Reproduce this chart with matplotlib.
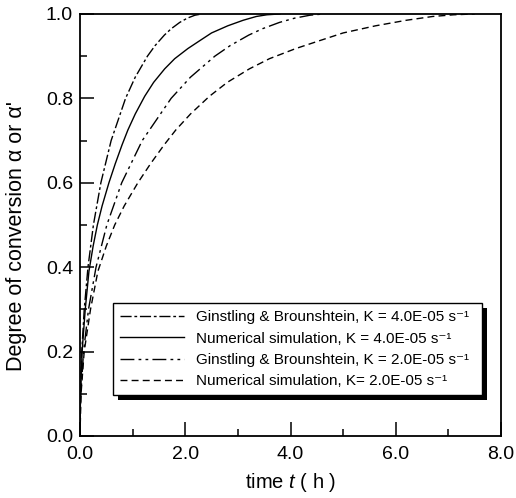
import matplotlib
matplotlib.use('Agg')
import matplotlib.pyplot as plt
import matplotlib.patheffects as pe

plt.rcParams['font.family'] = ['Liberation Sans', 'DejaVu Sans']
plt.rcParams['mathtext.fontset'] = 'custom'
plt.rcParams['mathtext.rm'] = 'Liberation Sans'
plt.rcParams['mathtext.it'] = 'Liberation Sans:italic'

# Ginstling & Brounshtein, K = 4.0E-05
t_gb4 = [0.0, 0.002, 0.008, 0.034, 0.081, 0.152, 0.255, 0.397, 0.592, 0.866,
         1.049, 1.282, 1.427, 1.604, 1.734, 1.896, 2.039, 2.184, 2.315]
a_gb4 = [0.0, 0.05, 0.1, 0.2, 0.3, 0.4, 0.5, 0.6, 0.7, 0.8,
         0.85, 0.9, 0.925, 0.95, 0.965, 0.98, 0.99, 0.997, 1.0]

# Numerical simulation, K = 4.0E-05
t_num4 = [0.0, 0.01, 0.04, 0.10, 0.17, 0.25, 0.33, 0.42, 0.55, 0.67, 0.80,
          0.91, 1.05, 1.23, 1.40, 1.61, 1.80, 2.05, 2.28, 2.50, 2.81, 3.10,
          3.35, 3.55, 3.80]
a_num4 = [0.0, 0.10, 0.20, 0.30, 0.39, 0.45, 0.50, 0.545, 0.60, 0.645, 0.69,
          0.725, 0.763, 0.805, 0.838, 0.870, 0.894, 0.918, 0.937, 0.955, 0.972,
          0.985, 0.994, 0.998, 1.0]

# Ginstling & Brounshtein, K = 2.0E-05
t_gb2 = [0.0, 0.004, 0.016, 0.068, 0.162, 0.305, 0.510, 0.793, 1.183, 1.732,
         2.098, 2.563, 2.854, 3.208, 3.468, 3.792, 4.078, 4.369, 4.630]
a_gb2 = [0.0, 0.05, 0.1, 0.2, 0.3, 0.4, 0.5, 0.6, 0.7, 0.8,
         0.85, 0.9, 0.925, 0.95, 0.965, 0.98, 0.99, 0.997, 1.0]

# Numerical simulation, K = 2.0E-05
t_num2 = [0.0, 0.02, 0.08, 0.20, 0.34, 0.50, 0.66, 0.84, 1.10, 1.34, 1.60,
          1.82, 2.10, 2.46, 2.80, 3.22, 3.60, 4.10, 4.56, 5.00, 5.62, 6.20,
          6.70, 7.10, 7.50]
a_num2 = [0.0, 0.10, 0.20, 0.30, 0.39, 0.45, 0.50, 0.545, 0.60, 0.645, 0.69,
          0.725, 0.763, 0.805, 0.838, 0.870, 0.894, 0.918, 0.937, 0.955, 0.972,
          0.985, 0.994, 0.998, 1.0]

labels = ['Ginstling & Brounshtein, K = 4.0E-05 s\u207b\u00b9',
          'Numerical simulation, K = 4.0E-05 s\u207b\u00b9',
          'Ginstling & Brounshtein, K = 2.0E-05 s\u207b\u00b9',
          'Numerical simulation, K= 2.0E-05 s\u207b\u00b9']

fig = plt.figure(figsize=(5.16, 4.98), dpi=100)
ax = fig.add_axes([0.155, 0.1245, 0.816, 0.8475])

ax.plot(t_gb4, a_gb4, color='k', lw=1, dashes=(8, 2, 2, 2), label=labels[0])
ax.plot(t_num4, a_num4, color='k', lw=1, label=labels[1])
ax.plot(t_gb2, a_gb2, color='k', lw=1, dashes=(10, 3, 2, 3, 2, 3), label=labels[2])
ax.plot(t_num2, a_num2, color='k', lw=1, dashes=(5, 3), label=labels[3])

ax.set_xlim(0, 8)
ax.set_ylim(0, 1)
ax.set_xticks([0, 2, 4, 6, 8])
ax.set_xticks([1, 3, 5, 7], minor=True)
ax.set_yticks([0, 0.2, 0.4, 0.6, 0.8, 1.0])
ax.set_yticks([0.1, 0.3, 0.5, 0.7, 0.9], minor=True)
ax.set_xticklabels(['0.0', '2.0', '4.0', '6.0', '8.0'])
ax.set_yticklabels(['0.0', '0.2', '0.4', '0.6', '0.8', '1.0'])
ax.tick_params(which='both', direction='in', labelsize=14, width=1.1)
ax.tick_params(which='major', length=10, pad=5)
ax.tick_params(axis='x', which='major', pad=7)
ax.tick_params(which='minor', length=5)
for s in ax.spines.values():
    s.set_linewidth(1.3)

ax.set_xlabel(r'time $\it{t}$ ( h )', fontsize=14.5, labelpad=6)
ax.set_ylabel("Degree of conversion α or α'", fontsize=15.5)
ax.yaxis.set_label_coords(-0.125, 0.475)

leg = ax.legend(loc='lower left', bbox_to_anchor=(0.078, 0.097, 0.877, 0.2),
                mode='expand', fontsize=11, handlelength=4.2, frameon=True,
                fancybox=False, edgecolor='k', framealpha=1, borderaxespad=0,
                labelspacing=0.48, borderpad=0.45)
leg.get_frame().set_linewidth(1.0)
leg.get_frame().set_path_effects([
    pe.SimplePatchShadow(offset=(3.5, -3.5), shadow_rgbFace='k', alpha=1),
    pe.Normal()])

fig.savefig('out.png', dpi=100)
